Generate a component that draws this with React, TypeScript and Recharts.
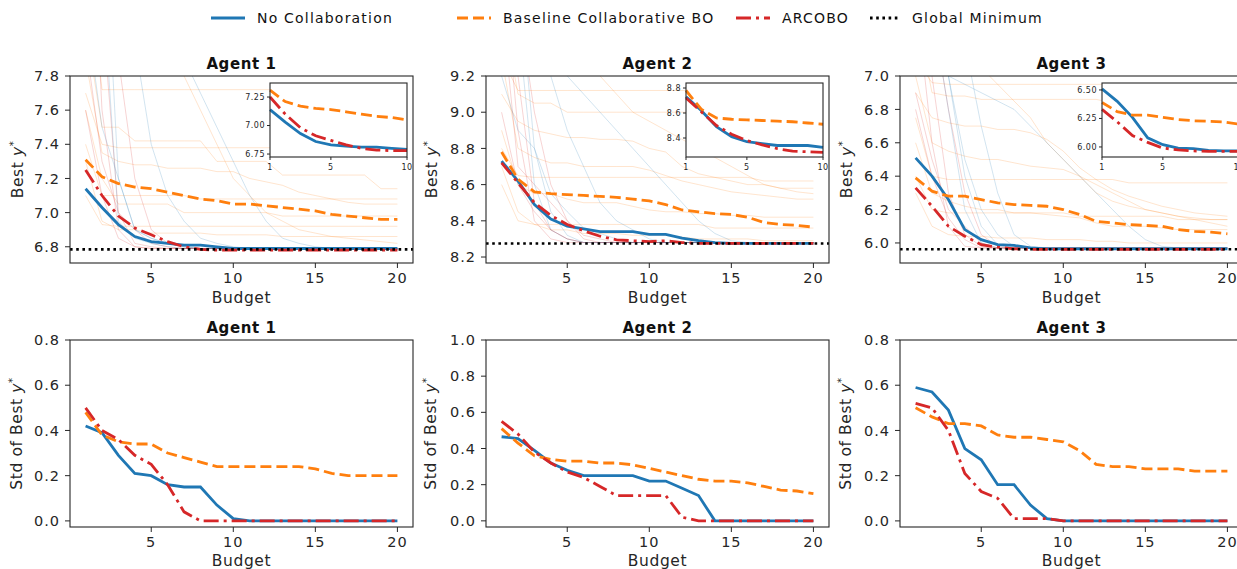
import { LineChart, Line, XAxis, YAxis, ReferenceLine } from 'recharts';

const BLUE = '#1f77b4';
const ORANGE = '#ff7f0e';
const RED = '#d62728';
const FONT = '"DejaVu Sans", sans-serif';
const INK = '#262626';

const budget = [1, 2, 3, 4, 5, 6, 7, 8, 9, 10, 11, 12, 13, 14, 15, 16, 17, 18, 19, 20];
const insetBudget = [1, 2, 3, 4, 5, 6, 7, 8, 9, 10];
const xTicks = [5, 10, 15, 20];
const insetXTicks = [1, 5, 10];

// ---- Agent 1: best y*
const a1NoCollab = [7.14, 7.03, 6.93, 6.86, 6.83, 6.82, 6.81, 6.81, 6.8, 6.79, 6.79, 6.79, 6.79, 6.79, 6.79, 6.79, 6.79, 6.79, 6.79, 6.79];
const a1Baseline = [7.31, 7.21, 7.17, 7.15, 7.14, 7.12, 7.1, 7.08, 7.07, 7.05, 7.05, 7.04, 7.03, 7.02, 7.01, 6.99, 6.98, 6.97, 6.96, 6.96];
const a1Arcobo = [7.25, 7.1, 6.98, 6.91, 6.87, 6.83, 6.8, 6.785, 6.78, 6.78, 6.78, 6.78, 6.78, 6.78, 6.78, 6.78, 6.78, 6.78, 6.78, 6.78];
const a1GlobalMin = 6.785;
const a1RunsOrange = [
  [8.6, 7.72, 7.72, 7.72, 7.72, 7.72, 7.72, 7.72, 7.72, 7.72, 7.72, 7.72, 7.72, 7.72, 7.72, 7.72, 7.72, 7.72, 7.72, 7.72],
  [8.1, 7.5, 7.5, 7.42, 7.42, 7.42, 7.42, 7.42, 7.3, 7.3, 7.3, 7.3, 7.22, 7.22, 7.22, 7.22, 7.22, 7.22, 7.14, 7.14],
  [7.6, 7.2, 7.05, 7.05, 7.05, 7.05, 7.0, 7.0, 7.0, 7.0, 7.0, 7.0, 6.98, 6.98, 6.98, 6.98, 6.98, 6.98, 6.98, 6.98],
  [7.3, 6.95, 6.9, 6.9, 6.88, 6.88, 6.88, 6.88, 6.87, 6.87, 6.87, 6.87, 6.86, 6.86, 6.86, 6.86, 6.86, 6.86, 6.86, 6.86],
  [9.0, 8.7, 8.4, 8.2, 8.0, 7.9, 7.8, 7.6, 7.4, 7.2, 7.1, 7.0, 6.95, 6.9, 6.88, 6.86, 6.85, 6.84, 6.83, 6.82],
  [7.9, 7.35, 7.3, 7.28, 7.28, 7.26, 7.26, 7.26, 7.24, 7.24, 7.2, 7.18, 7.16, 7.12, 7.1, 7.08, 7.06, 7.05, 7.05, 7.05],
  [7.7, 7.4, 7.38, 7.38, 7.38, 7.38, 7.38, 7.38, 7.38, 7.38, 7.38, 7.38, 7.38, 7.38, 7.38, 7.38, 7.38, 7.38, 7.38, 7.38],
  [7.4, 7.1, 7.1, 7.1, 7.1, 7.1, 7.1, 7.08, 7.08, 7.08, 7.08, 7.08, 7.08, 7.08, 7.08, 7.08, 7.08, 7.08, 7.08, 7.08],
  [7.1, 6.93, 6.92, 6.92, 6.92, 6.92, 6.92, 6.92, 6.92, 6.92, 6.92, 6.92, 6.92, 6.92, 6.92, 6.92, 6.92, 6.92, 6.92, 6.92],
];
const a1RunsRed = [
  [9.5, 7.6, 6.9, 6.8, 6.79, 6.79, 6.79, 6.79, 6.79, 6.79, 6.79, 6.79, 6.79, 6.79, 6.79, 6.79, 6.79, 6.79, 6.79, 6.79],
  [8.8, 8.2, 7.0, 6.82, 6.8, 6.79, 6.79, 6.79, 6.79, 6.79, 6.79, 6.79, 6.79, 6.79, 6.79, 6.79, 6.79, 6.79, 6.79, 6.79],
  [7.6, 7.1, 6.85, 6.8, 6.79, 6.79, 6.79, 6.79, 6.79, 6.79, 6.79, 6.79, 6.79, 6.79, 6.79, 6.79, 6.79, 6.79, 6.79, 6.79],
  [8.0, 7.3, 7.0, 6.9, 6.82, 6.8, 6.79, 6.79, 6.79, 6.79, 6.79, 6.79, 6.79, 6.79, 6.79, 6.79, 6.79, 6.79, 6.79, 6.79],
  [10.5, 9.0, 7.9, 7.2, 6.9, 6.82, 6.8, 6.79, 6.79, 6.79, 6.79, 6.79, 6.79, 6.79, 6.79, 6.79, 6.79, 6.79, 6.79, 6.79],
];
const a1RunsBlue = [
  [9.8, 8.4, 6.95, 6.85, 6.82, 6.8, 6.79, 6.79, 6.79, 6.79, 6.79, 6.79, 6.79, 6.79, 6.79, 6.79, 6.79, 6.79, 6.79, 6.79],
  [8.2, 7.5, 7.2, 6.9, 6.85, 6.82, 6.8, 6.79, 6.79, 6.79, 6.79, 6.79, 6.79, 6.79, 6.79, 6.79, 6.79, 6.79, 6.79, 6.79],
  [10.0, 9.5, 9.0, 8.0, 7.4, 7.1, 6.95, 6.85, 6.82, 6.8, 6.79, 6.79, 6.79, 6.79, 6.79, 6.79, 6.79, 6.79, 6.79, 6.79],
  [11.0, 9.0, 7.2, 6.9, 6.85, 6.82, 6.8, 6.79, 6.79, 6.79, 6.79, 6.79, 6.79, 6.79, 6.79, 6.79, 6.79, 6.79, 6.79, 6.79],
  [9.0, 8.8, 8.6, 8.5, 8.3, 8.1, 7.9, 7.7, 7.5, 7.3, 7.1, 6.95, 6.85, 6.82, 6.8, 6.79, 6.79, 6.79, 6.79, 6.79],
];

// ---- Agent 2: best y*
const a2NoCollab = [8.73, 8.62, 8.49, 8.41, 8.37, 8.355, 8.34, 8.34, 8.34, 8.325, 8.325, 8.305, 8.29, 8.28, 8.275, 8.275, 8.275, 8.275, 8.275, 8.275];
const a2Baseline = [8.78, 8.63, 8.56, 8.55, 8.545, 8.54, 8.535, 8.53, 8.52, 8.51, 8.49, 8.46, 8.45, 8.44, 8.435, 8.42, 8.39, 8.38, 8.375, 8.365];
const a2Arcobo = [8.72, 8.61, 8.5, 8.43, 8.38, 8.345, 8.315, 8.295, 8.29, 8.285, 8.29, 8.28, 8.275, 8.275, 8.275, 8.275, 8.275, 8.275, 8.275, 8.275];
const a2GlobalMin = 8.275;
const a2RunsOrange = [
  [9.6, 9.1, 9.05, 9.05, 9.0, 9.0, 9.0, 9.0, 9.0, 9.0, 9.0, 9.0, 9.0, 8.95, 8.95, 8.95, 8.95, 8.95, 8.95, 8.95],
  [9.3, 8.8, 8.75, 8.72, 8.72, 8.7, 8.7, 8.7, 8.7, 8.68, 8.65, 8.62, 8.6, 8.58, 8.56, 8.55, 8.54, 8.53, 8.52, 8.52],
  [8.9, 8.6, 8.55, 8.55, 8.52, 8.5, 8.5, 8.5, 8.48, 8.46, 8.45, 8.45, 8.44, 8.44, 8.43, 8.43, 8.42, 8.42, 8.42, 8.42],
  [8.7, 8.45, 8.38, 8.35, 8.35, 8.33, 8.33, 8.33, 8.32, 8.32, 8.32, 8.31, 8.3, 8.3, 8.3, 8.3, 8.29, 8.29, 8.29, 8.29],
  [10.0, 9.8, 9.6, 9.5, 9.4, 9.3, 9.2, 9.1, 9.0, 8.95, 8.9, 8.85, 8.8, 8.75, 8.7, 8.65, 8.6, 8.58, 8.56, 8.55],
  [9.1, 8.95, 8.9, 8.88, 8.86, 8.86, 8.85, 8.85, 8.84, 8.8, 8.78, 8.7, 8.66, 8.64, 8.62, 8.6, 8.6, 8.58, 8.58, 8.58],
  [9.3, 9.12, 9.12, 9.12, 9.12, 9.12, 9.12, 9.12, 9.12, 9.12, 9.12, 9.12, 9.12, 9.12, 9.12, 9.12, 9.12, 9.12, 9.12, 9.12],
  [8.8, 8.65, 8.64, 8.64, 8.64, 8.64, 8.64, 8.64, 8.64, 8.64, 8.64, 8.64, 8.64, 8.64, 8.64, 8.64, 8.62, 8.62, 8.62, 8.62],
  [8.6, 8.4, 8.38, 8.38, 8.38, 8.38, 8.38, 8.38, 8.38, 8.38, 8.38, 8.38, 8.38, 8.36, 8.36, 8.36, 8.36, 8.36, 8.36, 8.36],
];
const a2RunsRed = [
  [9.9, 8.9, 8.4, 8.3, 8.28, 8.28, 8.28, 8.28, 8.28, 8.28, 8.28, 8.28, 8.28, 8.28, 8.28, 8.28, 8.28, 8.28, 8.28, 8.28],
  [9.4, 9.2, 8.5, 8.35, 8.3, 8.28, 8.28, 8.28, 8.28, 8.28, 8.28, 8.28, 8.28, 8.28, 8.28, 8.28, 8.28, 8.28, 8.28, 8.28],
  [9.6, 8.7, 8.6, 8.5, 8.4, 8.32, 8.3, 8.28, 8.28, 8.28, 8.28, 8.28, 8.28, 8.28, 8.28, 8.28, 8.28, 8.28, 8.28, 8.28],
  [9.0, 8.6, 8.45, 8.35, 8.3, 8.28, 8.28, 8.28, 8.28, 8.28, 8.28, 8.28, 8.28, 8.28, 8.28, 8.28, 8.28, 8.28, 8.28, 8.28],
  [10.5, 9.6, 9.0, 8.6, 8.4, 8.3, 8.28, 8.28, 8.28, 8.28, 8.28, 8.28, 8.28, 8.28, 8.28, 8.28, 8.28, 8.28, 8.28, 8.28],
];
const a2RunsBlue = [
  [10.2, 9.5, 8.6, 8.35, 8.3, 8.28, 8.28, 8.28, 8.28, 8.28, 8.28, 8.28, 8.28, 8.28, 8.28, 8.28, 8.28, 8.28, 8.28, 8.28],
  [9.2, 8.9, 8.8, 8.55, 8.45, 8.36, 8.33, 8.3, 8.28, 8.28, 8.28, 8.28, 8.28, 8.28, 8.28, 8.28, 8.28, 8.28, 8.28, 8.28],
  [9.8, 9.6, 9.4, 9.2, 8.9, 8.7, 8.5, 8.4, 8.35, 8.3, 8.28, 8.28, 8.28, 8.28, 8.28, 8.28, 8.28, 8.28, 8.28, 8.28],
  [11.0, 9.8, 8.8, 8.45, 8.32, 8.28, 8.28, 8.28, 8.28, 8.28, 8.28, 8.28, 8.28, 8.28, 8.28, 8.28, 8.28, 8.28, 8.28, 8.28],
  [9.6, 9.5, 9.4, 9.3, 9.2, 9.1, 9.0, 8.9, 8.8, 8.7, 8.6, 8.5, 8.4, 8.33, 8.29, 8.28, 8.28, 8.28, 8.28, 8.28],
];

// ---- Agent 3: best y*
const a3NoCollab = [6.51, 6.4, 6.26, 6.08, 6.02, 5.99, 5.985, 5.97, 5.965, 5.965, 5.965, 5.965, 5.965, 5.965, 5.965, 5.965, 5.965, 5.965, 5.965, 5.965];
const a3Baseline = [6.39, 6.31, 6.28, 6.28, 6.26, 6.24, 6.23, 6.225, 6.22, 6.2, 6.17, 6.13, 6.12, 6.11, 6.105, 6.1, 6.08, 6.07, 6.065, 6.055];
const a3Arcobo = [6.33, 6.22, 6.1, 6.04, 5.99, 5.975, 5.965, 5.962, 5.962, 5.962, 5.962, 5.962, 5.962, 5.962, 5.962, 5.962, 5.962, 5.962, 5.962, 5.962];
const a3GlobalMin = 5.962;
const a3RunsOrange = [
  [7.4, 6.9, 6.88, 6.88, 6.86, 6.86, 6.86, 6.86, 6.86, 6.86, 6.86, 6.86, 6.84, 6.84, 6.84, 6.84, 6.84, 6.84, 6.84, 6.84],
  [7.0, 6.6, 6.55, 6.52, 6.5, 6.5, 6.48, 6.46, 6.45, 6.44, 6.4, 6.3, 6.25, 6.22, 6.2, 6.18, 6.16, 6.15, 6.14, 6.14],
  [6.6, 6.3, 6.25, 6.22, 6.2, 6.2, 6.18, 6.18, 6.17, 6.16, 6.15, 6.12, 6.1, 6.1, 6.1, 6.09, 6.08, 6.08, 6.08, 6.08],
  [6.3, 6.1, 6.05, 6.04, 6.04, 6.03, 6.03, 6.03, 6.02, 6.02, 6.02, 6.01, 6.01, 6.0, 6.0, 6.0, 6.0, 6.0, 6.0, 6.0],
  [7.8, 7.6, 7.4, 7.2, 7.05, 6.95, 6.85, 6.75, 6.6, 6.5, 6.4, 6.35, 6.3, 6.25, 6.2, 6.18, 6.16, 6.14, 6.12, 6.1],
  [6.9, 6.75, 6.72, 6.7, 6.7, 6.68, 6.68, 6.66, 6.62, 6.55, 6.45, 6.38, 6.32, 6.28, 6.25, 6.22, 6.2, 6.18, 6.17, 6.16],
  [7.1, 6.96, 6.95, 6.95, 6.95, 6.95, 6.95, 6.95, 6.95, 6.95, 6.95, 6.95, 6.95, 6.95, 6.95, 6.95, 6.95, 6.95, 6.95, 6.95],
  [6.75, 6.4, 6.38, 6.38, 6.38, 6.38, 6.38, 6.38, 6.38, 6.38, 6.38, 6.38, 6.38, 6.36, 6.36, 6.36, 6.36, 6.36, 6.36, 6.36],
  [6.4, 6.2, 6.18, 6.18, 6.18, 6.18, 6.18, 6.18, 6.18, 6.18, 6.16, 6.16, 6.16, 6.16, 6.16, 6.16, 6.14, 6.14, 6.14, 6.14],
];
const a3RunsRed = [
  [7.5, 6.6, 6.1, 5.98, 5.97, 5.97, 5.97, 5.97, 5.97, 5.97, 5.97, 5.97, 5.97, 5.97, 5.97, 5.97, 5.97, 5.97, 5.97, 5.97],
  [7.2, 7.0, 6.3, 6.05, 5.98, 5.97, 5.97, 5.97, 5.97, 5.97, 5.97, 5.97, 5.97, 5.97, 5.97, 5.97, 5.97, 5.97, 5.97, 5.97],
  [6.9, 6.5, 6.2, 6.1, 6.0, 5.97, 5.97, 5.97, 5.97, 5.97, 5.97, 5.97, 5.97, 5.97, 5.97, 5.97, 5.97, 5.97, 5.97, 5.97],
  [6.8, 6.4, 6.15, 6.02, 5.97, 5.97, 5.97, 5.97, 5.97, 5.97, 5.97, 5.97, 5.97, 5.97, 5.97, 5.97, 5.97, 5.97, 5.97, 5.97],
  [8.0, 7.4, 6.8, 6.3, 6.05, 5.98, 5.97, 5.97, 5.97, 5.97, 5.97, 5.97, 5.97, 5.97, 5.97, 5.97, 5.97, 5.97, 5.97, 5.97],
];
const a3RunsBlue = [
  [7.8, 7.4, 6.8, 6.2, 6.0, 5.97, 5.97, 5.97, 5.97, 5.97, 5.97, 5.97, 5.97, 5.97, 5.97, 5.97, 5.97, 5.97, 5.97, 5.97],
  [7.4, 7.2, 7.0, 6.5, 6.2, 6.05, 5.98, 5.97, 5.97, 5.97, 5.97, 5.97, 5.97, 5.97, 5.97, 5.97, 5.97, 5.97, 5.97, 5.97],
  [8.0, 7.7, 7.5, 7.2, 6.7, 6.3, 6.05, 5.98, 5.97, 5.97, 5.97, 5.97, 5.97, 5.97, 5.97, 5.97, 5.97, 5.97, 5.97, 5.97],
  [8.5, 7.8, 7.0, 6.4, 6.1, 5.99, 5.97, 5.97, 5.97, 5.97, 5.97, 5.97, 5.97, 5.97, 5.97, 5.97, 5.97, 5.97, 5.97, 5.97],
  [7.2, 7.1, 7.0, 6.95, 6.9, 6.85, 6.8, 6.7, 6.6, 6.5, 6.4, 6.3, 6.2, 6.1, 6.02, 5.98, 5.97, 5.97, 5.97, 5.97],
];

// ---- Std of best y*
const s1NoCollab = [0.42, 0.39, 0.29, 0.21, 0.2, 0.16, 0.15, 0.15, 0.07, 0.01, 0, 0, 0, 0, 0, 0, 0, 0, 0, 0];
const s1Baseline = [0.48, 0.38, 0.35, 0.34, 0.34, 0.3, 0.28, 0.26, 0.24, 0.24, 0.24, 0.24, 0.24, 0.24, 0.23, 0.21, 0.2, 0.2, 0.2, 0.2];
const s1Arcobo = [0.5, 0.4, 0.36, 0.29, 0.25, 0.16, 0.04, 0, 0, 0, 0, 0, 0, 0, 0, 0, 0, 0, 0, 0];

const s2NoCollab = [0.465, 0.455, 0.39, 0.32, 0.28, 0.25, 0.25, 0.25, 0.25, 0.22, 0.22, 0.18, 0.14, 0, 0, 0, 0, 0, 0, 0];
const s2Baseline = [0.51, 0.43, 0.36, 0.34, 0.33, 0.33, 0.32, 0.32, 0.31, 0.29, 0.27, 0.25, 0.23, 0.22, 0.22, 0.21, 0.19, 0.17, 0.165, 0.15];
const s2Arcobo = [0.55, 0.48, 0.38, 0.32, 0.27, 0.24, 0.19, 0.14, 0.14, 0.14, 0.14, 0.02, 0, 0, 0, 0, 0, 0, 0, 0];

const s3NoCollab = [0.59, 0.57, 0.49, 0.32, 0.27, 0.16, 0.16, 0.07, 0.01, 0, 0, 0, 0, 0, 0, 0, 0, 0, 0, 0];
const s3Baseline = [0.5, 0.46, 0.43, 0.43, 0.42, 0.38, 0.37, 0.37, 0.36, 0.35, 0.31, 0.25, 0.24, 0.24, 0.23, 0.23, 0.23, 0.22, 0.22, 0.22];
const s3Arcobo = [0.52, 0.5, 0.4, 0.21, 0.13, 0.1, 0.01, 0.01, 0.01, 0, 0, 0, 0, 0, 0, 0, 0, 0, 0, 0];

type Box = { x: number; y: number; w: number; h: number };

const mainStyles = [
  { key: 'nc', color: BLUE, dash: undefined as string | undefined },
  { key: 'bl', color: ORANGE, dash: '11 5' },
  { key: 'ar', color: RED, dash: '15 5 3 5' },
];

function buildRows(xs: number[], nc: number[], bl: number[], ar: number[], runs: number[][] = []) {
  return xs.map((b, i) => {
    const row: Record<string, number> = { b, nc: nc[i], bl: bl[i], ar: ar[i] };
    runs.forEach((r, j) => {
      row[`run${j}`] = r[i];
    });
    return row;
  });
}

const tickFont = { fill: INK, fontSize: 14.5, fontFamily: FONT, letterSpacing: 1 };
const insetTickFont = { fill: INK, fontSize: 8, fontFamily: FONT, letterSpacing: 0.5 };

interface PanelProps {
  box: Box;
  nc: number[];
  bl: number[];
  ar: number[];
  yDomain: [number, number];
  yTicks: number[];
  faint?: { runs: number[][]; color: string }[];
  gmin?: number;
}

function Panel({ box, nc, bl, ar, yDomain, yTicks, faint = [], gmin }: PanelProps) {
  const allRuns: number[][] = [];
  const runColors: string[] = [];
  faint.forEach((g) => g.runs.forEach((r) => { allRuns.push(r); runColors.push(g.color); }));
  const rows = buildRows(budget, nc, bl, ar, allRuns);
  return (
    <div style={{ position: 'absolute', left: box.x - 70, top: box.y - 50 }}>
      <LineChart width={box.w + 80} height={box.h + 100} data={rows} margin={{ top: 50, right: 10, left: 0, bottom: 0 }}>
        <XAxis dataKey="b" type="number" domain={[0.05, 20.95]} ticks={xTicks} height={50} axisLine={false}
          tickSize={5} tickMargin={5} tickLine={{ stroke: INK }} tick={tickFont} />
        <YAxis type="number" domain={yDomain} ticks={yTicks} width={70} allowDataOverflow axisLine={false}
          tickSize={5} tickMargin={5} tickLine={{ stroke: INK }} tick={tickFont}
          tickFormatter={(v: number) => v.toFixed(1)} />
        {allRuns.map((_, j) => (
          <Line key={`run${j}`} dataKey={`run${j}`} stroke={runColors[j]} strokeOpacity={0.2} strokeWidth={1}
            dot={false} activeDot={false} isAnimationActive={false} />
        ))}
        {mainStyles.map((s) => (
          <Line key={s.key} dataKey={s.key} stroke={s.color} strokeDasharray={s.dash} strokeWidth={2.8}
            dot={false} activeDot={false} isAnimationActive={false} />
        ))}
        {gmin !== undefined && (
          <ReferenceLine y={gmin} stroke="#000" strokeWidth={2.6} strokeDasharray="2.6 3.6" />
        )}
      </LineChart>
    </div>
  );
}

interface InsetProps {
  box: Box;
  nc: number[];
  bl: number[];
  ar: number[];
  yDomain: [number, number];
  yTicks: number[];
  digits: number;
}

function Inset({ box, nc, bl, ar, yDomain, yTicks, digits }: InsetProps) {
  const rows = buildRows(insetBudget, nc.slice(0, 10), bl.slice(0, 10), ar.slice(0, 10));
  return (
    <>
      <div style={{ position: 'absolute', left: box.x, top: box.y, width: box.w, height: box.h, background: '#fff' }} />
      <div style={{ position: 'absolute', left: box.x - 40, top: box.y - 5 }}>
        <LineChart width={box.w + 45} height={box.h + 25} data={rows} margin={{ top: 5, right: 5, left: 0, bottom: 0 }}>
          <XAxis dataKey="b" type="number" domain={[1, 10]} ticks={insetXTicks} height={20} axisLine={false}
            tickSize={3} tickMargin={4} tickLine={{ stroke: INK }} tick={insetTickFont} />
          <YAxis type="number" domain={yDomain} ticks={yTicks} width={40} allowDataOverflow axisLine={false}
            tickSize={3} tickMargin={2} tickLine={{ stroke: INK }} tick={insetTickFont}
            tickFormatter={(v: number) => v.toFixed(digits)} />
          {mainStyles.map((s) => (
            <Line key={s.key} dataKey={s.key} stroke={s.color} strokeDasharray={s.dash} strokeWidth={2.8}
              dot={false} activeDot={false} isAnimationActive={false} />
          ))}
        </LineChart>
      </div>
    </>
  );
}

const topBoxes: Box[] = [
  { x: 70, y: 76, w: 343, h: 187 },
  { x: 486, y: 76, w: 343, h: 187 },
  { x: 900, y: 76, w: 343, h: 187 },
];
const bottomBoxes: Box[] = [
  { x: 70, y: 340, w: 343, h: 187 },
  { x: 486, y: 340, w: 343, h: 187 },
  { x: 900, y: 340, w: 343, h: 187 },
];
const insetBoxes: Box[] = [
  { x: 270, y: 83, w: 137, h: 74 },
  { x: 686, y: 83, w: 137, h: 74 },
  { x: 1102, y: 83, w: 137, h: 74 },
];

const agentNames = ['Agent 1', 'Agent 2', 'Agent 3'];
const legendItems = [
  { label: 'No Collaboration', color: BLUE, dash: undefined as string | undefined, x: 211, w: 34 },
  { label: 'Baseline Collaborative BO', color: ORANGE, dash: '11 5', x: 457, w: 34 },
  { label: 'ARCOBO', color: RED, dash: '15 5 3 5', x: 736, w: 34 },
  { label: 'Global Minimum', color: '#000', dash: '2.6 3.6', x: 870, w: 30 },
];

function YLabel({ x, y, prefix }: { x: number; y: number; prefix: string }) {
  return (
    <text x={x} y={y} transform={`rotate(-90, ${x}, ${y})`} textAnchor="middle" fontSize={15.5} fill={INK}
      fontFamily={FONT} letterSpacing={0.6}>
      {prefix}
      <tspan fontStyle="italic">y</tspan>
      <tspan dy={-6} fontSize={10}>*</tspan>
    </text>
  );
}

export default function App() {
  const faint1 = [{ runs: a1RunsOrange, color: ORANGE }, { runs: a1RunsRed, color: RED }, { runs: a1RunsBlue, color: BLUE }];
  const faint2 = [{ runs: a2RunsOrange, color: ORANGE }, { runs: a2RunsRed, color: RED }, { runs: a2RunsBlue, color: BLUE }];
  const faint3 = [{ runs: a3RunsOrange, color: ORANGE }, { runs: a3RunsRed, color: RED }, { runs: a3RunsBlue, color: BLUE }];
  const yLabelX = [23, 437, 852];

  return (
    <div style={{ position: 'absolute', left: 0, top: 0, width: 1237, height: 569, overflow: 'hidden', background: '#fff' }}>
      <Panel box={topBoxes[0]} nc={a1NoCollab} bl={a1Baseline} ar={a1Arcobo} yDomain={[6.705, 7.8]}
        yTicks={[6.8, 7.0, 7.2, 7.4, 7.6, 7.8]} faint={faint1} gmin={a1GlobalMin} />
      <Panel box={topBoxes[1]} nc={a2NoCollab} bl={a2Baseline} ar={a2Arcobo} yDomain={[8.167, 9.2]}
        yTicks={[8.2, 8.4, 8.6, 8.8, 9.0, 9.2]} faint={faint2} gmin={a2GlobalMin} />
      <Panel box={topBoxes[2]} nc={a3NoCollab} bl={a3Baseline} ar={a3Arcobo} yDomain={[5.88, 7.0]}
        yTicks={[6.0, 6.2, 6.4, 6.6, 6.8, 7.0]} faint={faint3} gmin={a3GlobalMin} />

      <Inset box={insetBoxes[0]} nc={a1NoCollab} bl={a1Baseline} ar={a1Arcobo} yDomain={[6.724, 7.373]} yTicks={[6.75, 7.0, 7.25]} digits={2} />
      <Inset box={insetBoxes[1]} nc={a2NoCollab} bl={a2Baseline} ar={a2Arcobo} yDomain={[8.248, 8.84]} yTicks={[8.4, 8.6, 8.8]} digits={1} />
      <Inset box={insetBoxes[2]} nc={a3NoCollab} bl={a3Baseline} ar={a3Arcobo} yDomain={[5.912, 6.561]} yTicks={[6.0, 6.25, 6.5]} digits={2} />

      <Panel box={bottomBoxes[0]} nc={s1NoCollab} bl={s1Baseline} ar={s1Arcobo} yDomain={[-0.027, 0.8]} yTicks={[0, 0.2, 0.4, 0.6, 0.8]} />
      <Panel box={bottomBoxes[1]} nc={s2NoCollab} bl={s2Baseline} ar={s2Arcobo} yDomain={[-0.034, 1.0]} yTicks={[0, 0.2, 0.4, 0.6, 0.8, 1.0]} />
      <Panel box={bottomBoxes[2]} nc={s3NoCollab} bl={s3Baseline} ar={s3Arcobo} yDomain={[-0.027, 0.8]} yTicks={[0, 0.2, 0.4, 0.6, 0.8]} />

      <svg width={1237} height={569} style={{ position: 'absolute', left: 0, top: 0, pointerEvents: 'none' }}>
        {[...topBoxes, ...bottomBoxes, ...insetBoxes].map((b, i) => (
          <rect key={i} x={b.x} y={b.y} width={b.w} height={b.h} fill="none" stroke={INK} strokeWidth={1.1} />
        ))}
        {topBoxes.map((b, i) => (
          <g key={`t${i}`}>
            <text x={b.x + b.w / 2} y={69} textAnchor="middle" fontSize={15} fontWeight="bold" fill="#111"
              fontFamily={FONT} letterSpacing={0.6}>{agentNames[i]}</text>
            <text x={b.x + b.w / 2} y={303} textAnchor="middle" fontSize={15.5} fill={INK} fontFamily={FONT}
              letterSpacing={0.6}>Budget</text>
            <YLabel x={yLabelX[i]} y={b.y + b.h / 2} prefix="Best " />
          </g>
        ))}
        {bottomBoxes.map((b, i) => (
          <g key={`b${i}`}>
            <text x={b.x + b.w / 2} y={333} textAnchor="middle" fontSize={15} fontWeight="bold" fill="#111"
              fontFamily={FONT} letterSpacing={0.6}>{agentNames[i]}</text>
            <text x={b.x + b.w / 2} y={566} textAnchor="middle" fontSize={15.5} fill={INK} fontFamily={FONT}
              letterSpacing={0.6}>Budget</text>
            <YLabel x={yLabelX[i] - 1} y={b.y + b.h / 2} prefix="Std of Best " />
          </g>
        ))}
        {legendItems.map((it) => (
          <g key={it.label}>
            <line x1={it.x} x2={it.x + it.w} y1={18} y2={18} stroke={it.color} strokeWidth={2.8} strokeDasharray={it.dash} />
            <text x={it.x + it.w + 12} y={23} fontSize={14} fill="#111" fontFamily={FONT} letterSpacing={1.2}>{it.label}</text>
          </g>
        ))}
      </svg>
    </div>
  );
}
